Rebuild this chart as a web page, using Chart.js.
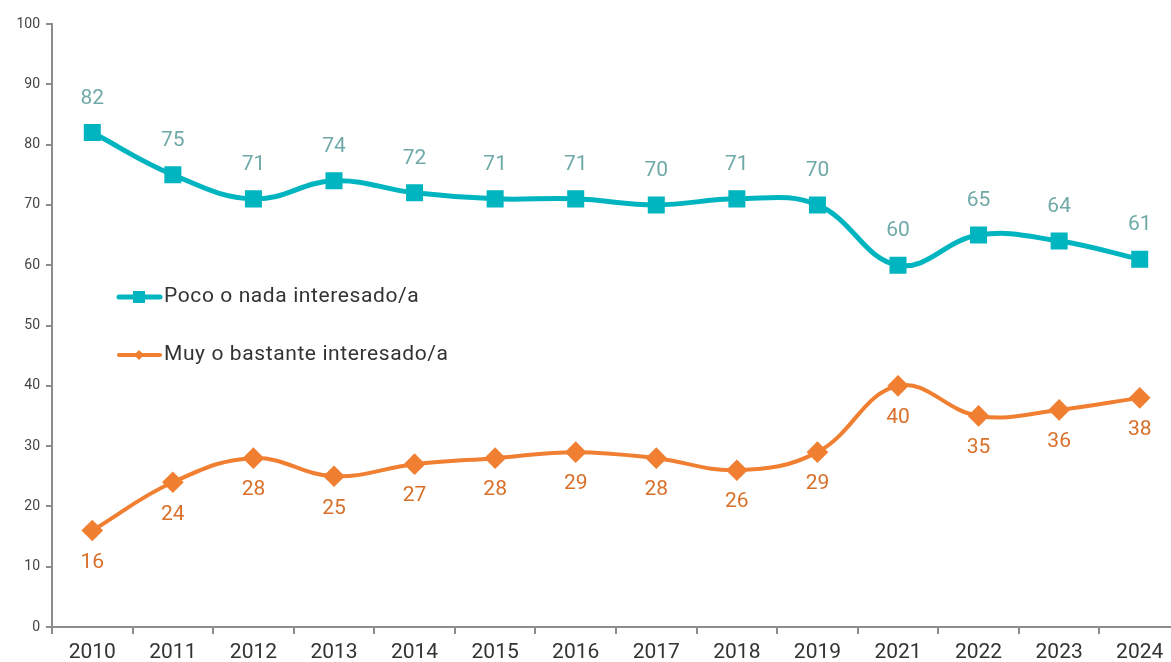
<!DOCTYPE html>
<html><head><meta charset="utf-8">
<script src="https://cdn.jsdelivr.net/npm/chart.js@4/dist/chart.umd.min.js"></script>
<style>html,body{margin:0;padding:0;overflow:hidden;background:#fff}canvas{display:block}</style>
</head><body><canvas id="c" width="1180" height="662" style="width:1180px;height:662px"></canvas>
<script>
const years = ['2010','2011','2012','2013','2014','2015','2016','2017','2018','2019','2021','2022','2023','2024'];
const pocoNada = [82,75,71,74,72,71,71,70,71,70,60,65,64,61];
const muyBastante = [16,24,28,25,27,28,29,28,26,29,40,35,36,38];
const seriesNames = ['Poco o nada interesado/a','Muy o bastante interesado/a'];
const yTicks = [0,10,20,30,40,50,60,70,80,90,100];

const TEAL = '#00b5c0', TEAL_LBL = '#6fa9a8', ORANGE = '#f07f32', ORANGE_LBL = '#d9702a';
const FONT = 'Roboto, "DejaVu Sans", sans-serif';

const labelPlugin = {
  id: 'labels',
  afterDatasetsDraw(chart) {
    const ctx = chart.ctx;
    ctx.save();
    ctx.font = '21px ' + FONT;
    ctx.textAlign = 'center';
    ctx.textBaseline = 'middle';
    chart.data.datasets.forEach((ds, i) => {
      const meta = chart.getDatasetMeta(i);
      meta.data.forEach((pt, j) => {
        ctx.fillStyle = i === 0 ? TEAL_LBL : ORANGE_LBL;
        const dy = i === 0 ? -34 : 32;
        ctx.fillText(String(ds.data[j]), pt.x, pt.y + dy);
      });
    });
    const items = [
      {y: 297, color: TEAL, lw: 5, marker: 'sq', text: seriesNames[0]},
      {y: 355, color: ORANGE, lw: 4, marker: 'dia', text: seriesNames[1]}
    ];
    items.forEach(it => {
      ctx.strokeStyle = it.color; ctx.lineWidth = it.lw; ctx.lineCap = 'round';
      ctx.beginPath(); ctx.moveTo(119, it.y); ctx.lineTo(160, it.y); ctx.stroke();
      ctx.fillStyle = it.color;
      if (it.marker === 'sq') { ctx.fillRect(133, it.y - 6, 12, 12); }
      else { ctx.beginPath(); ctx.moveTo(139, it.y - 5); ctx.lineTo(144, it.y); ctx.lineTo(139, it.y + 5); ctx.lineTo(134, it.y); ctx.closePath(); ctx.fill(); }
      ctx.fillStyle = '#333';
      ctx.font = '21px ' + FONT;
      ctx.letterSpacing = '0.6px';
      ctx.textAlign = 'left';
      ctx.fillText(it.text, 164, it.y);
      ctx.letterSpacing = '0px';
    });
    ctx.restore();
  }
};

new Chart(document.getElementById('c'), {
  type: 'line',
  data: {
    labels: years,
    datasets: [
      {label: seriesNames[0], data: pocoNada, borderColor: TEAL, backgroundColor: TEAL, borderWidth: 5,
       pointStyle: 'rect', pointRadius: 8.5, pointHoverRadius: 8.5, tension: 0.4},
      {label: seriesNames[1], data: muyBastante, borderColor: ORANGE, backgroundColor: ORANGE, borderWidth: 4,
       pointStyle: 'rectRot', pointRadius: 8, pointHoverRadius: 8, tension: 0.4}
    ]
  },
  options: {
    responsive: false, animation: false, devicePixelRatio: 1,
    layout: {autoPadding: false, padding: {top: 24, right: 0, left: 0, bottom: 0}},
    plugins: {legend: {display: false}, tooltip: {enabled: false}},
    scales: {
      x: {
        offset: true,
        grid: {display: true, drawOnChartArea: false, drawTicks: true, tickLength: 7, color: '#8c8c8c', lineWidth: 2, offset: true},
        border: {display: true, color: '#8c8c8c', width: 2},
        ticks: {color: '#333', font: {size: 21, family: FONT}, padding: 6, maxRotation: 0, autoSkip: false},
        afterFit: s => { s.height = 35; s.paddingLeft = 0; s.paddingRight = 0; }
      },
      y: {
        min: 0, max: 100,
        afterBuildTicks: s => { s.ticks = yTicks.map(v => ({value: v})); },
        grid: {display: true, drawOnChartArea: false, drawTicks: true, tickLength: 6, color: '#8c8c8c', lineWidth: 2},
        border: {display: true, color: '#8c8c8c', width: 2},
        ticks: {color: '#444', font: {size: 14, family: FONT}, padding: 6},
        afterFit: s => { s.width = 52; s.paddingTop = 0; s.paddingBottom = 0; }
      }
    }
  },
  plugins: [labelPlugin]
});
</script></body></html>
